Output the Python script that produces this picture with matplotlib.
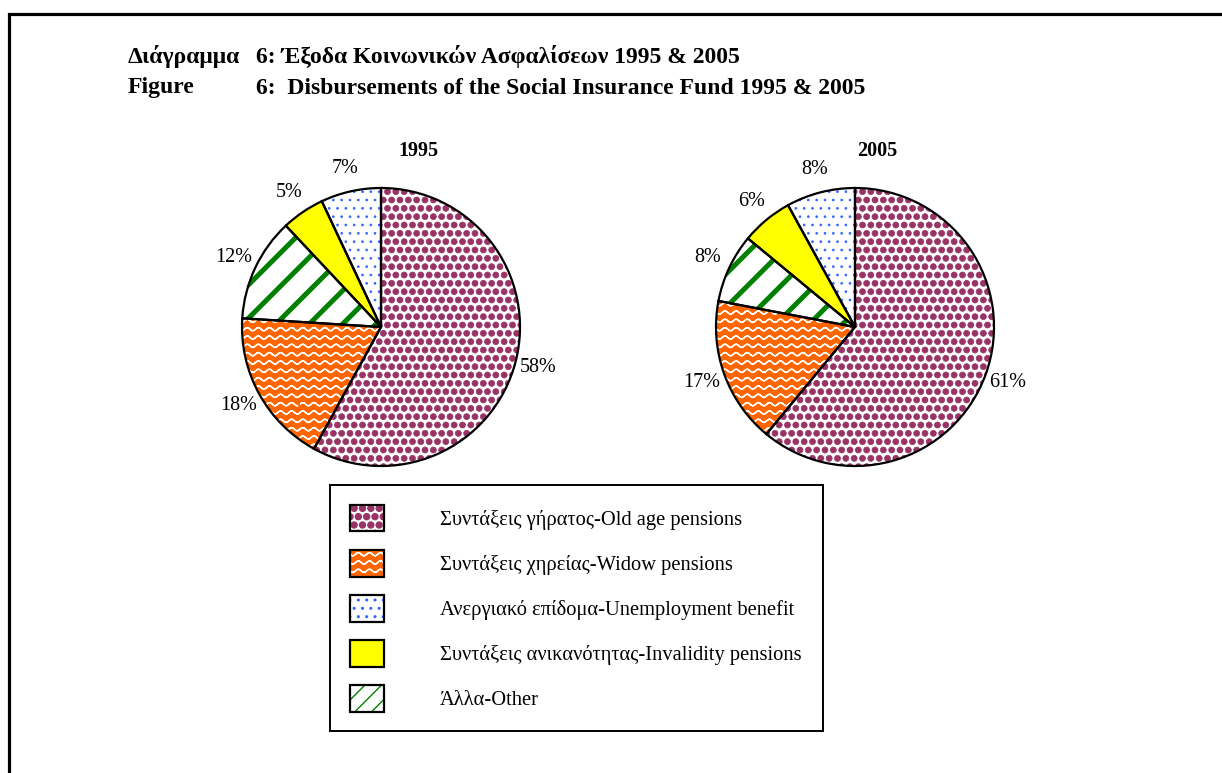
import numpy as np
import matplotlib
matplotlib.use("Agg")
import matplotlib.pyplot as plt
from matplotlib import hatch as mhatch
from matplotlib.path import Path
from matplotlib.patches import Rectangle, Patch
from matplotlib.legend_handler import HandlerTuple

# ---------------- data ----------------
pie_categories = ["Old age", "Widow", "Other", "Invalidity", "Unemployment"]
values_1995 = [58, 18, 12, 5, 7]
values_2005 = [61, 17, 8, 6, 8]
year_labels = ["1995", "2005"]
legend_order = ["Old age", "Widow", "Unemployment", "Invalidity", "Other"]
legend_labels = [
    "Συντάξεις γήρατος-Old age pensions",
    "Συντάξεις χηρείας-Widow pensions",
    "Ανεργιακό επίδομα-Unemployment benefit",
    "Συντάξεις ανικανότητας-Invalidity pensions",
    "Άλλα-Other",
]
title_gr_lead = "Διάγραμμα"
title_gr_rest = "6: Έξοδα Κοινωνικών Ασφαλίσεων 1995 & 2005"
title_en_lead = "Figure"
title_en_rest = "6:  Disbursements of the Social Insurance Fund 1995 & 2005"

# ---------------- styles ----------------
face = {"Old age": "white", "Widow": "#FF6600", "Other": "white",
        "Invalidity": "#FFFF00", "Unemployment": "white"}
hcol = {"Old age": "#993366", "Widow": "#FFFFFF", "Other": "#008000",
        "Invalidity": "#FFFF00", "Unemployment": "#3366FF"}
hpat = {"Old age": "OO", "Widow": "--", "Other": "/",
        "Invalidity": None, "Unemployment": ".."}
hlw = {"Old age": 0.5, "Widow": 1.0, "Other": 3.6, "Invalidity": 1.0,
       "Unemployment": 0.7}


# ---------------- custom hatch textures ----------------
class WavyHatch(mhatch.HatchPatternBase):
    def __init__(self, hatch, density):
        self.num_lines = int((hatch.count('-') + hatch.count('+')) * density)
        self.npts = 91
        self.num_vertices = self.num_lines * self.npts * 2

    def set_vertices_and_codes(self, vertices, codes):
        x = np.linspace(0, 1, self.npts)
        n = self.npts
        for i in range(self.num_lines):
            y0 = (i + 0.5) / self.num_lines
            y = y0 + 0.016 * np.sin(2 * np.pi * 9 * x)
            s = i * 2 * n
            vertices[s:s + n, 0] = x
            vertices[s:s + n, 1] = y
            vertices[s + n:s + 2 * n, 0] = x[::-1]
            vertices[s + n:s + 2 * n, 1] = y[::-1]
            codes[s:s + 2 * n] = Path.LINETO
            codes[s] = Path.MOVETO


class BigFilledCircles(mhatch.Circles):
    size = 0.36
    filled = True

    def __init__(self, hatch, density):
        self.num_rows = hatch.count('O') * density
        super().__init__(hatch, density)


try:
    types = mhatch._hatch_types
    for i, t in enumerate(types):
        if t is mhatch.HorizontalHatch:
            types[i] = WavyHatch
        elif t is mhatch.LargeCircles:
            types[i] = BigFilledCircles
except Exception:
    pass

plt.rcParams['font.family'] = ['Liberation Serif', 'DejaVu Serif']

W, H = 1222, 773
fig = plt.figure(figsize=(W / 100, H / 100), dpi=100)
fig.patch.set_facecolor("white")

# outer border
fig.patches.append(Rectangle((9 / W, -0.05), 1.2, 1 - 14 / H + 0.05,
                             transform=fig.transFigure, fill=False,
                             edgecolor="black", linewidth=2.3,
                             clip_on=False))

# titles
fs_title = 17
x_lead, x_rest = 128, 256
for y, lead, rest in [(57, title_gr_lead, title_gr_rest),
                      (88, title_en_lead, title_en_rest)]:
    fig.text(x_lead / W, 1 - y / H, lead, fontsize=fs_title,
             fontweight="bold", va="center", ha="left")
    fig.text(x_rest / W, 1 - y / H, rest, fontsize=fs_title,
             fontweight="bold", va="center", ha="left")


def pie_axes(cx, cy, r):
    return fig.add_axes([(cx - r) / W, 1 - (cy + r) / H, 2 * r / W, 2 * r / H])


def draw_pie(ax, values):
    hatch_w, _, txts = ax.pie(
        values, startangle=90, counterclock=False,
        colors=[face[c] for c in pie_categories],
        autopct='%1.0f%%', pctdistance=1.17,
        wedgeprops=dict(linewidth=0),
        textprops=dict(fontsize=14.5, color="black"))
    for w, c in zip(hatch_w, pie_categories):
        w.set_edgecolor(hcol[c])
        if hpat[c]:
            w.set_hatch(hpat[c])
        if hasattr(w, "set_hatch_linewidth"):
            w.set_hatch_linewidth(hlw[c])
    for t in txts:
        t.set_clip_on(False)
    out_w, _ = ax.pie(values, startangle=90, counterclock=False,
                      colors=["none"] * len(values),
                      wedgeprops=dict(linewidth=1.6, edgecolor="black"))
    ax.set_xlim(-1, 1)
    ax.set_ylim(-1, 1)
    ax.set_axis_off()
    return hatch_w, out_w


with plt.rc_context({'hatch.linewidth': 1.0}):
    ax1 = pie_axes(381, 327, 139)
    hw1, ow1 = draw_pie(ax1, values_1995)
    ax2 = pie_axes(855, 327, 139)
    hw2, ow2 = draw_pie(ax2, values_2005)

fig.text(418 / W, 1 - 151 / H, year_labels[0], fontsize=14.5,
         fontweight="bold", ha="center", va="center")
fig.text(877 / W, 1 - 151 / H, year_labels[1], fontsize=14.5,
         fontweight="bold", ha="center", va="center")

# legend
handles = []
for cat in legend_order:
    i = pie_categories.index(cat)
    if cat == "Other":
        proxy = Patch(facecolor=face[cat], edgecolor=hcol[cat],
                      hatch="//", linewidth=0)
        if hasattr(proxy, "set_hatch_linewidth"):
            proxy.set_hatch_linewidth(2.4)
        handles.append((proxy, ow1[i]))
    else:
        handles.append((hw1[i], ow1[i]))

fs_leg = 14.8
leg = fig.legend(handles, legend_labels, loc="upper left",
                 bbox_to_anchor=(330 / W, 1 - 733 / H, 493 / W, 248 / H),
                 mode="expand", fontsize=fs_leg, frameon=True, fancybox=False,
                 edgecolor="black", framealpha=1, borderpad=0.95,
                 handlelength=1.70, handleheight=1.64, handletextpad=2.71,
                 labelspacing=0.88, borderaxespad=0,
                 handler_map={tuple: HandlerTuple(ndivide=1, pad=0)})
leg.get_frame().set_linewidth(1.4)

fig.savefig("out.png", dpi=100)
